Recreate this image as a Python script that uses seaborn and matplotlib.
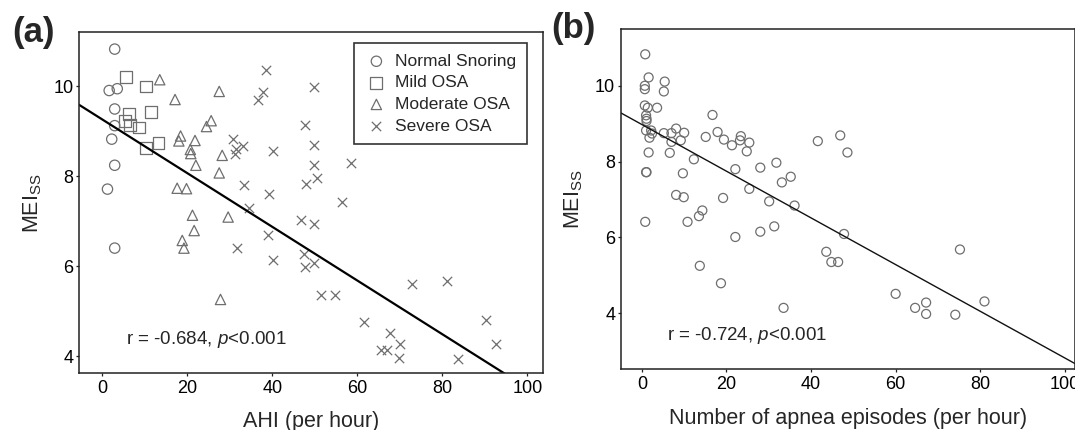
import numpy as np
import matplotlib
matplotlib.use("Agg")
import matplotlib.pyplot as plt
import seaborn as sns

# ---------------- data ----------------
# panel (a): MEIss vs AHI, by severity group
normal_ahi = [2.9, 1.6, 3.5, 2.9, 2.9, 2.2, 2.9, 1.2, 2.9]
normal_mei = [10.82, 9.90, 9.94, 9.49, 9.12, 8.82, 8.24, 7.71, 6.40]

mild_ahi = [5.5, 10.2, 6.3, 11.4, 5.3, 6.5, 8.6, 10.2, 13.2]
mild_mei = [10.20, 9.99, 9.38, 9.42, 9.23, 9.13, 9.08, 8.63, 8.73]

moderate_ahi = [13.5, 27.5, 17.1, 25.6, 24.5, 18.4, 18.0, 21.8, 20.7, 20.8, 28.2,
                22.0, 27.5, 17.6, 19.8, 21.2, 29.6, 21.6, 18.8, 19.2, 27.8]
moderate_mei = [10.14, 9.88, 9.70, 9.23, 9.10, 8.89, 8.78, 8.79, 8.59, 8.50, 8.46,
                8.24, 8.07, 7.73, 7.72, 7.13, 7.09, 6.79, 6.57, 6.40, 5.26]

severe_ahi = [38.6, 37.8, 36.6, 49.8, 47.8, 49.8, 30.8, 31.2, 33.1, 31.5, 40.2,
              49.8, 58.4, 50.4, 47.9, 33.3, 39.3, 34.5, 56.5, 46.8, 49.8, 39.0,
              31.8, 40.1, 47.5, 47.8, 49.8, 51.4, 54.7, 61.5, 72.9, 81.2, 67.8,
              65.6, 66.9, 70.0, 69.8, 83.8, 90.2, 92.7]
severe_mei = [10.35, 9.87, 9.70, 9.98, 9.13, 8.69, 8.82, 8.50, 8.67, 8.60, 8.55,
              8.24, 8.28, 7.96, 7.83, 7.81, 7.60, 7.28, 7.43, 7.02, 6.93, 6.70,
              6.40, 6.13, 6.27, 5.99, 6.08, 5.35, 5.35, 4.77, 5.61, 5.67, 4.51,
              4.13, 4.13, 4.28, 3.96, 3.93, 4.81, 4.28]

# fitted line of panel (a): intercept, slope
fit_a = (9.256, -0.0596)

# panel (b): MEIss vs number of apnea episodes
apnea_b = [0.8, 1.6, 0.7, 0.7, 5.4, 5.2, 0.7, 1.4, 3.6, 1.0, 1.1, 1.1, 16.7,
           1.0, 2.2, 1.8, 2.4, 5.2, 7.0, 8.1, 10.0, 7.0, 9.2, 15.1, 17.9, 19.4,
           21.3, 23.4, 23.2, 25.4, 24.8, 1.6, 6.6, 12.3, 22.1, 28.0, 31.8, 1.0,
           1.1, 9.7, 35.2, 33.1, 25.4, 8.1, 9.9, 19.2, 30.1, 36.1, 14.3, 13.5,
           0.8, 10.8, 31.3, 28.0, 22.1, 47.8, 43.6, 44.8, 46.4, 75.2, 13.7, 18.7,
           33.5, 60.0, 64.6, 67.2, 67.2, 74.1, 81.0, 41.6, 46.9, 48.6]
mei_b = [10.83, 10.22, 10.00, 9.91, 10.11, 9.85, 9.48, 9.42, 9.42, 9.22, 9.13,
         9.07, 9.23, 8.82, 8.82, 8.63, 8.74, 8.75, 8.75, 8.87, 8.76, 8.52, 8.56,
         8.65, 8.78, 8.58, 8.43, 8.67, 8.56, 8.50, 8.27, 8.24, 8.23, 8.06, 7.80,
         7.84, 7.97, 7.72, 7.72, 7.69, 7.60, 7.45, 7.28, 7.12, 7.06, 7.04, 6.95,
         6.84, 6.71, 6.56, 6.41, 6.41, 6.29, 6.15, 6.01, 6.09, 5.62, 5.35, 5.35,
         5.68, 5.25, 4.79, 4.14, 4.51, 4.14, 4.28, 3.98, 3.96, 4.31, 8.54, 8.69,
         8.24]

fit_b = (8.978, -0.0616)

x_ticks = [0, 20, 40, 60, 80, 100]
y_ticks = [4, 6, 8, 10]

# ---------------- style ----------------
sns.set_style("ticks")
plt.rcParams["font.family"] = ["Liberation Sans", "DejaVu Sans"]
plt.rcParams["mathtext.fontset"] = "custom"
plt.rcParams["mathtext.rm"] = "Liberation Sans"
plt.rcParams["mathtext.it"] = "Liberation Sans:italic"

GREY = "#6e6e6e"
SPINE = "#222222"

fig = plt.figure(figsize=(10.75, 4.3), dpi=100)
ax_a = fig.add_axes([0.0735, 0.1319, 0.432, 0.7937])
ax_b = fig.add_axes([0.5774, 0.1412, 0.4226, 0.7907])


def style_axes(ax):
    for sp in ax.spines.values():
        sp.set_color(SPINE)
        sp.set_linewidth(1.1)
    ax.tick_params(axis="both", which="major", length=2.5, width=0.9,
                   color=SPINE, labelsize=13, labelcolor="black")
    ax.tick_params(axis="y", pad=1.5)
    ax.tick_params(axis="x", pad=2.5)
    ax.set_xticks(x_ticks)
    ax.set_yticks(y_ticks)


# ---------------- panel (a) ----------------
open_kw = dict(facecolor="none", edgecolor=GREY, color=GREY, linewidth=0.9)
sns.scatterplot(x=normal_ahi, y=normal_mei, marker="o", s=55, ax=ax_a,
                label="Normal Snoring", **open_kw)
sns.scatterplot(x=mild_ahi, y=mild_mei, marker="s", s=72, ax=ax_a,
                label="Mild OSA", **open_kw)
sns.scatterplot(x=moderate_ahi, y=moderate_mei, marker="^", s=55, ax=ax_a,
                label="Moderate OSA", **open_kw)
sns.scatterplot(x=severe_ahi, y=severe_mei, marker="x", s=45, ax=ax_a,
                label="Severe OSA", color=GREY, linewidth=0.9)

ax_a.set_xlim(-5.5, 103.8)
ax_a.set_ylim(3.62, 11.2)
ax_a.axline((0, fit_a[0]), slope=fit_a[1], color="black", lw=1.6)
style_axes(ax_a)

ax_a.set_xlabel("AHI (per hour)", fontsize=15.5)
ax_a.set_ylabel("MEI$_{\\mathrm{SS}}$", fontsize=15.5)
ax_a.xaxis.set_label_coords(0.5, -0.14)
ax_a.xaxis.label.set_va("center")
ax_a.yaxis.set_label_coords(-0.099, 0.5)
ax_a.yaxis.label.set_va("center")

ax_a.text(5.6, 4.38, "r = -0.684, $\\mathit{p}$<0.001", fontsize=13.5,
          ha="left", va="center")

leg = ax_a.legend(loc="upper right", bbox_to_anchor=(0.9647, 0.967),
                  frameon=True, fancybox=False, edgecolor="black",
                  fontsize=12.5, borderpad=0.6, labelspacing=0.37,
                  handlelength=1.4, handletextpad=0.4, borderaxespad=0,
                  markerscale=1.0)
leg.get_frame().set_linewidth(1.2)

# ---------------- panel (b) ----------------
sns.scatterplot(x=apnea_b, y=mei_b, marker="o", s=42, ax=ax_b, **open_kw)
ax_b.set_xlim(-5.0, 102.4)
ax_b.set_ylim(2.52, 11.49)
ax_b.axline((0, fit_b[0]), slope=fit_b[1], color="#111111", lw=1.0)
style_axes(ax_b)

ax_b.set_xlabel("Number of apnea episodes (per hour)", fontsize=15.5)
ax_b.set_ylabel("MEI$_{\\mathrm{SS}}$", fontsize=15.5)
ax_b.xaxis.set_label_coords(0.5, -0.145)
ax_b.xaxis.label.set_va("center")
ax_b.yaxis.set_label_coords(-0.1035, 0.5)
ax_b.yaxis.label.set_va("center")

ax_b.text(5.9, 3.41, "r = -0.724, $\\mathit{p}$<0.001", fontsize=13.5,
          ha="left", va="center")

# panel letters
fig.text(0.011, 0.924, "(a)", fontsize=25, fontweight="bold",
         ha="left", va="center")
fig.text(0.513, 0.934, "(b)", fontsize=25, fontweight="bold",
         ha="left", va="center")

fig.savefig("out.png", dpi=100, facecolor="white")
